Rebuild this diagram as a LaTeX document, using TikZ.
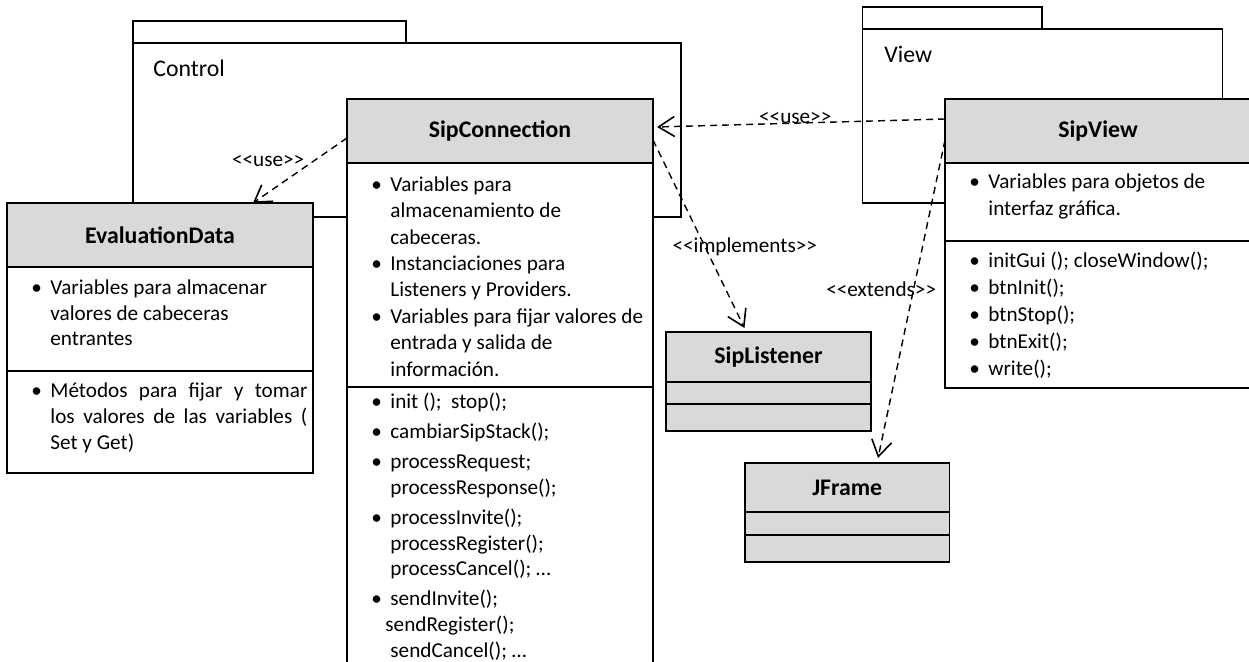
\documentclass[tikz,border=0pt]{standalone}
\usepackage{fontspec}
\setmainfont{Carlito}[Ligatures=TeXOff]
\usetikzlibrary{positioning, arrows.meta}

\definecolor{cabecera}{HTML}{D9D9D9}
\newcommand{\cuerpo}[1]{\fontsize{10.6}{#1}\selectfont}
\newcommand{\vi}{\makebox[9.5pt][l]{\textbullet}}
\newcommand{\sg}{\hspace*{9.5pt}}

\tikzset{
    clase/.style={draw, line width=0.9pt, fill=cabecera, minimum width=153pt, minimum height=32pt, inner sep=0pt, outer sep=0pt, font=\fontsize{11.9}{14}\selectfont\bfseries},
    compart/.style={draw, line width=0.9pt, fill=white, minimum width=153pt, minimum height=#1, inner sep=0pt, outer sep=0pt},
    texto/.style={anchor=north west, inner sep=0pt, align=left},
    paquete/.style={draw, line width=0.9pt},
    nombre/.style={anchor=base west, inner sep=0pt, font=\fontsize{11.9}{14}\selectfont},
    uso/.style={line width=0.7pt, dash pattern=on 3.5pt off 2.5pt, -{Straight Barb[length=8pt, width=10pt, line width=0.8pt]}},
    etiq/.style={font={\cuerpo{13.2}}, inner sep=0pt}
}

\begin{document}
\begin{tikzpicture}[x=0.5pt, y=-0.5pt]
    \useasboundingbox (0,0) rectangle (1249,662);

    % Paquete Control
    \draw[paquete] (133,21) rectangle (406,43);
    \draw[paquete] (133,43) rectangle (681,217);
    \node[nombre] (control) at (153,77) {Control};

    % Paquete View
    \draw[paquete] (862.5,7) rectangle (1042,29);
    \draw[paquete] (862.5,29) rectangle (1222.5,203);
    \node[nombre] (view) at (884,63) {View};

    % Clase SipConnection
    \node[clase] (schead) at (500,131) {SipConnection};
    \node[compart=112pt, below=0pt of schead] (scattr) {};
    \node[compart=156.5pt, below=0pt of scattr] (scmet) {};
    \node[texto, font={\cuerpo{13.2}}] (scattrtx) at ([xshift=12pt, yshift=-4.76pt]scattr.north west) {\strut\vi Variables para\\
        \sg almacenamiento de\\
        \sg cabeceras.\\
        \vi Instanciaciones para\\
        \sg Listeners y Providers.\\
        \vi Variables para fijar valores de\\
        \sg entrada y salida de\\
        \sg información.};
    \node[texto, font={\cuerpo{12.9}}] (scmettx) at ([xshift=12pt, yshift=-1.47pt]scmet.north west) {\strut\vi init ();~ stop();\\[2.1pt]
        \vi cambiarSipStack();\\[2.1pt]
        \vi processRequest;\\
        \sg processResponse();\\[2.1pt]
        \vi processInvite();\\
        \sg processRegister();\\
        \sg processCancel(); …\\[2.1pt]
        \vi sendInvite();\\
        \hspace*{7pt}sendRegister();\\
        \sg sendCancel(); …};

    % Clase EvaluationData
    \node[clase] (evhead) at (160,235) {EvaluationData};
    \node[compart=52pt, below=0pt of evhead] (evattr) {};
    \node[compart=51pt, below=0pt of evattr] (evmet) {};
    \node[texto, font={\cuerpo{12.9}}] (evattrtx) at ([xshift=12pt, yshift=-4.47pt]evattr.north west) {\strut\vi Variables para almacenar\\
        \sg valores de cabeceras\\
        \sg entrantes};
    \node[texto, font={\cuerpo{13}}] (evmettx) at ([xshift=12pt, yshift=-3.9pt]evmet.north west) {\strut\vi\makebox[128.5pt][s]{Métodos para fijar y tomar}\\
        \sg\makebox[128.5pt][s]{los valores de las variables (}\\
        \sg Set y Get)};

    % Clase SipView
    \node[clase] (svhead) at (1098,131) {SipView};
    \node[compart=39pt, below=0pt of svhead] (svattr) {};
    \node[compart=73.5pt, below=0pt of svattr] (svmet) {};
    \node[texto, font={\cuerpo{13.5}}] (svattrtx) at ([xshift=12pt, yshift=-3.05pt]svattr.north west) {\strut\vi Variables para objetos de\\
        \sg interfaz gráfica.};
    \node[texto, font={\cuerpo{13.5}}] (svmettx) at ([xshift=12pt, yshift=-3.55pt]svmet.north west) {\strut\vi initGui (); closeWindow();\\
        \vi btnInit();\\
        \vi btnStop();\\
        \vi btnExit();\\
        \vi write();};

    % Clase SipListener
    \node[clase, minimum width=102.5pt, minimum height=25pt] (slhead) at (768.5,357) {SipListener};
    \node[compart=11pt, fill=cabecera, minimum width=102.5pt, below=0pt of slhead] (slattr) {};
    \node[compart=13.5pt, fill=cabecera, minimum width=102.5pt, below=0pt of slattr] (slmet) {};

    % Clase JFrame
    \node[clase, minimum width=102.25pt, minimum height=24.5pt] (jfhead) at (847.25,487.5) {JFrame};
    \node[compart=11.5pt, fill=cabecera, minimum width=102.25pt, below=0pt of jfhead] (jfattr) {};
    \node[compart=13.5pt, fill=cabecera, minimum width=102.25pt, below=0pt of jfattr] (jfmet) {};

    % Relaciones
    \draw[uso] ([yshift=-3.5pt]schead.west) -- ([xshift=46.5pt]evhead.north)
        node[etiq, pos=0.5, anchor=south east, xshift=2.5pt, yshift=1.75pt] {<<use>>};
    \draw[uso] ([yshift=6pt]svhead.west) -- ([xshift=2pt, yshift=2pt]schead.east)
        node[etiq, pos=0.52, anchor=base] {<<use>>};
    \draw[uso] ([yshift=-4.5pt]schead.east) -- ([xshift=-12pt, yshift=2pt]slhead.north)
        node[etiq, pos=0.56, anchor=base, xshift=20.25pt, yshift=-3.5pt] {<<implements>>};
    \draw[uso] ([yshift=-4.5pt]svhead.west) -- ([xshift=15.4pt, yshift=2.5pt]jfhead.north)
        node[etiq, pos=0.49, anchor=base, xshift=-15.5pt, yshift=-0.5pt] {<<extends>>};
\end{tikzpicture}
\end{document}
